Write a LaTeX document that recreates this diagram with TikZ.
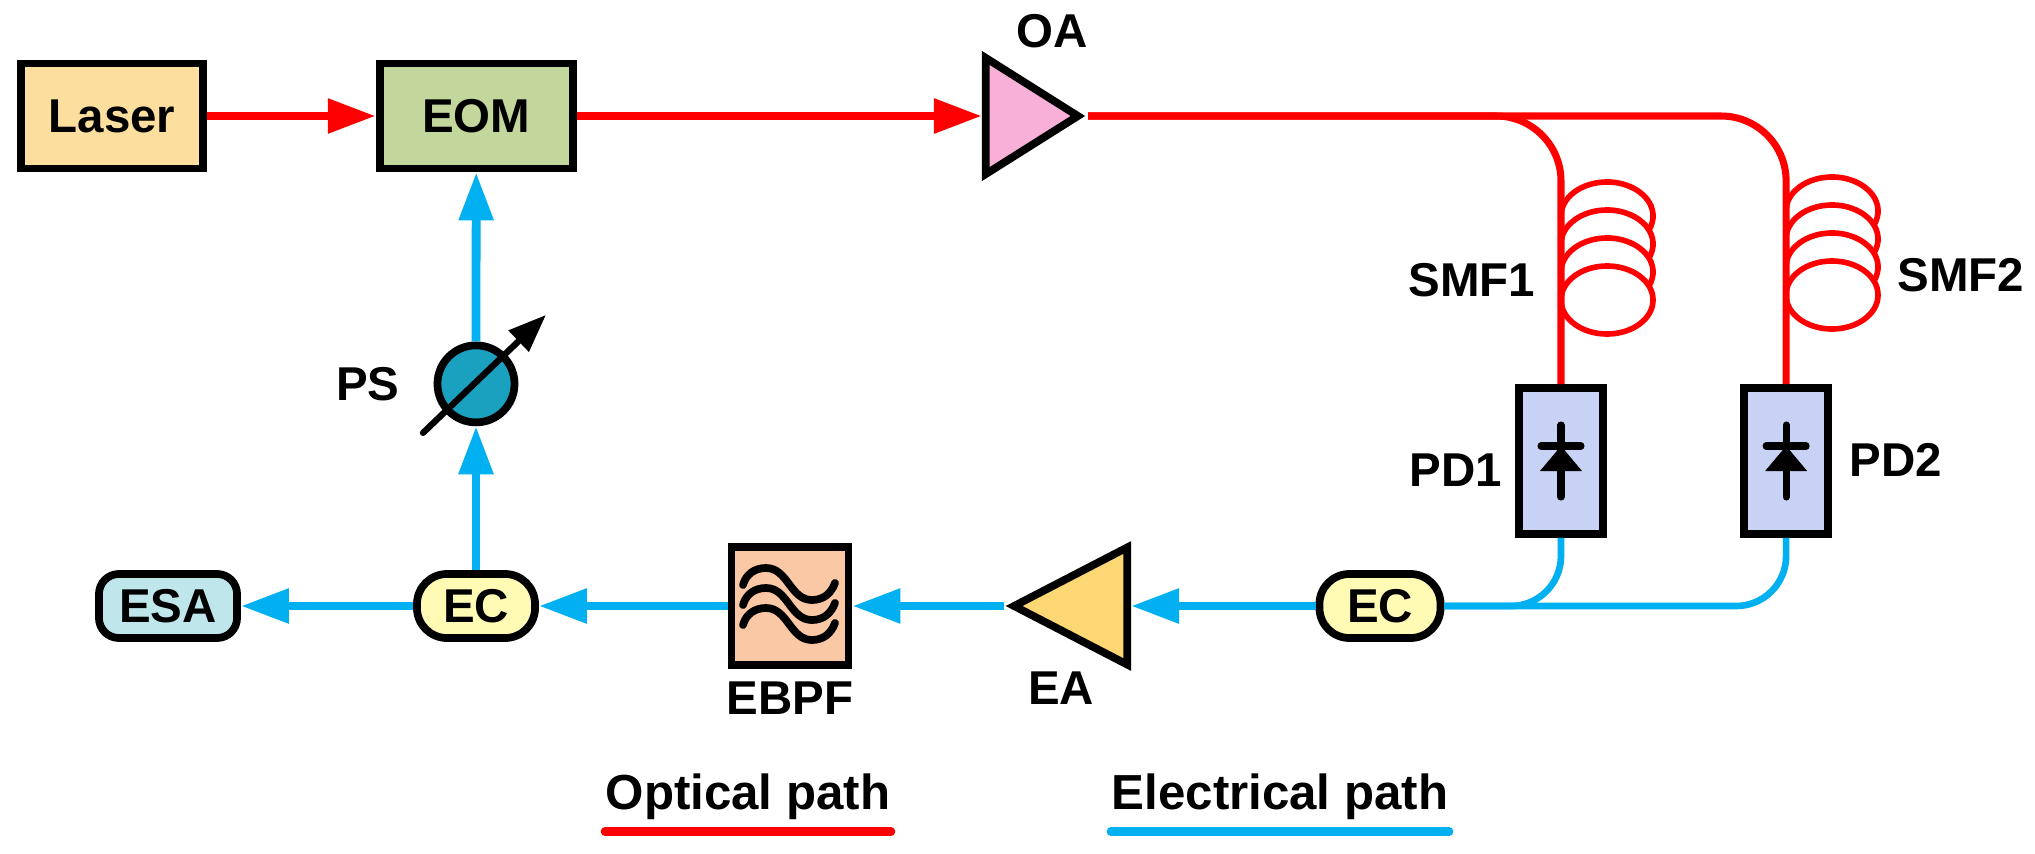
\documentclass[tikz,border=0pt]{standalone}
\usepackage{fontspec}
\setmainfont{Liberation Sans}
\usetikzlibrary{arrows.meta, positioning, shapes.geometric}
\definecolor{optred}{HTML}{FF0000}
\definecolor{elecblue}{HTML}{00B0F0}
\definecolor{laserfill}{HTML}{FCDE9E}
\definecolor{eomfill}{HTML}{C3D69B}
\definecolor{oafill}{HTML}{F9B0D8}
\definecolor{psfill}{HTML}{1BA1C0}
\definecolor{ecfill}{HTML}{FFFAB4}
\definecolor{esafill}{HTML}{BEE6EB}
\definecolor{bpffill}{HTML}{FAC8A5}
\definecolor{eafill}{HTML}{FCD773}
\definecolor{pdfill}{HTML}{C8D2F5}

\begin{document}
\begin{tikzpicture}[x=0.01cm,y=0.01cm,on grid,>={Triangle[length=0.48cm,width=0.33cm]},
      font=\fontsize{13.5}{16}\selectfont\bfseries, inner sep=0pt,
      blk/.style={draw,line width=2.2pt},
      optic/.style={draw=optred,line width=2.5pt},
      elec/.style={draw=elecblue,line width=2.5pt},
      fibre/.style={draw=optred,line width=2pt},
      coil/.style={draw=optred,line width=1.6pt},
      wire/.style={draw=elecblue,line width=1.9pt},
      pill/.style={blk,fill=ecfill,rounded corners=0.3cm,minimum width=1.18cm,minimum height=0.64cm},
      pdbox/.style={blk,fill=pdfill,minimum width=0.84cm,minimum height=1.46cm},
      amp/.style={blk,isosceles triangle,isosceles triangle stretches},
      legend/.style={font=\fontsize{14}{16}\selectfont\bfseries}]
      \useasboundingbox (0,0) rectangle (2035,-854);
      % optical part
      \node[blk,fill=laserfill,minimum width=1.82cm,minimum height=1.05cm] (laser) at (112,-116) {Laser};
      \node[blk,fill=eomfill,minimum width=1.93cm,minimum height=1.05cm] (eom) [right=3.64cm of laser] {EOM};
      \node[amp,fill=oafill,minimum width=1.16cm,minimum height=0.92cm,anchor=apex] (oa) at (1088,-116) {};
      \node (oa_lab) at (1052,-31) {OA};
      \node[pdbox] (pd1) at (1561,-461) {};
      \node[pdbox] (pd2) [right=2.25cm of pd1] {};
      \node (pd1_lab) at (1456,-470) {PD1};
      \node (pd2_lab) at (1896,-460) {PD2};
      \node (smf1_lab) at (1472,-280) {SMF1};
      \node (smf2_lab) at (1961,-275) {SMF2};
      \path[->]
      (laser) edge[optic] (eom)
      (eom.east) edge[optic] (oa.west);
      \draw[fibre,rounded corners=0.65cm] (oa.apex) -| (pd1.north);
      \draw[fibre,rounded corners=0.65cm] (oa.apex) -| (pd2.north);
      % fibre spools
      \foreach \cx/\cy in {1561/-216, 1786/-211} {
        \foreach \k in {0,1,2}
          \draw[coil] (\cx,\cy-28*\k) arc[start angle=180,end angle=-24,x radius=0.46cm,y radius=0.34cm];
        \draw[coil] (\cx+46,\cy-84) ellipse[x radius=0.46cm,y radius=0.34cm];
      }
      % photodiodes
      \foreach \p in {pd1,pd2} {
        \draw[line width=2pt,line cap=round] ([yshift=0.36cm]\p.center) -- ([yshift=-0.36cm]\p.center);
        \draw[line width=2pt,line cap=round] ([shift={(-20,15)}]\p.center) -- ([shift={(20,15)}]\p.center);
        \fill ([shift={(0,15)}]\p.center) -- ([shift={(-21,-10)}]\p.center) -- ([shift={(21,-10)}]\p.center) -- cycle;
      }
      % electrical part
      \node[pill,minimum width=1.21cm] (ec1) at (1380,-606) {EC};
      \node[amp,fill=eafill,shape border rotate=180,minimum width=1.17cm,minimum height=1.13cm,anchor=apex] (ea) at (1004,-606) {};
      \node (ea_lab) at (1061,-688) {EA};
      \node[blk,fill=bpffill,minimum width=1.17cm,minimum height=1.18cm] (ebpf) at (790,-606) {};
      \node (ebpf_lab) [below=0.92cm of ebpf] {EBPF};
      \node[pill] (ec2) at (476,-606) {EC};
      \node[blk,fill=esafill,rounded corners=0.2cm,minimum width=1.38cm,minimum height=0.64cm] (esa) at (168,-606) {ESA};
      \node[blk,circle,fill=psfill,minimum size=0.77cm] (ps) [above=2.22cm of ec2] {};
      \node (ps_lab) [left=1.08cm of ps] {PS};
      \foreach \dy in {0,-20,-40}
        \draw[line width=2.2pt,line cap=round] ([shift={(-47,21+\dy)}]ebpf.center)
          to[out=75,in=180] ++(23,17) to[out=0,in=180] ++(46,-32) to[out=0,in=-110] ++(23,17);
      \draw[line width=1.8pt,line cap=round,-{Triangle[length=0.38cm,width=0.28cm]}]
        ([shift={(-53,-49)}]ps.center) -- ([shift={(70,69)}]ps.center);
      \draw[wire,rounded corners=0.5cm] (pd1.south) |- (ec1.east);
      \draw[wire,rounded corners=0.5cm] (pd2.south) |- (ec1.east);
      \path[->]
      (ec1.west) edge[elec] (ea.east)
      (ea.apex) edge[elec] (ebpf.east)
      (ebpf.west) edge[elec] (ec2.east)
      (ec2.west) edge[elec] (esa.east)
      (ec2.north) edge[elec] (ps.south)
      (ps.north) edge[elec] (eom.south);
      % legend
      \node[legend] (opt_lab) at (748,-797) {Optical path};
      \node[legend] (ele_lab) at (1280,-797) {Electrical path};
      \draw[optic,line cap=round] ([yshift=-0.11cm]opt_lab.south west) -- ([yshift=-0.11cm]opt_lab.south east);
      \draw[elec,line cap=round] ([yshift=-0.11cm]ele_lab.south west) -- ([yshift=-0.11cm]ele_lab.south east);
    \end{tikzpicture}
\end{document}
